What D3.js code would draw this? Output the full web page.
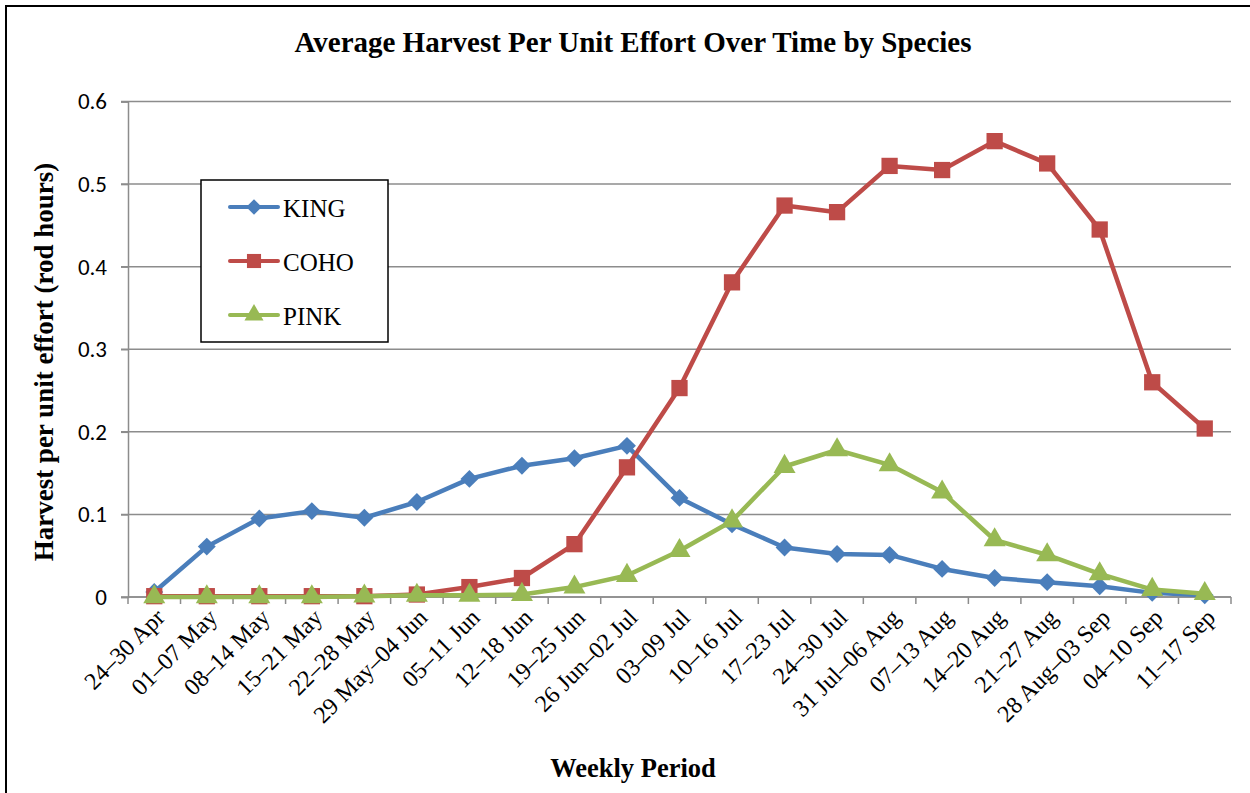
<!DOCTYPE html>
<html lang="en">
<head>
<meta charset="UTF-8">
<script src="https://cdn.jsdelivr.net/npm/d3@7"></script>
<title>Average Harvest Per Unit Effort Over Time by Species</title>
<style>
    body { margin: 0; background: white; }
    svg { display: block; }
    .ytick text { font-family: Calibri, Carlito, 'Liberation Sans', Arial, sans-serif; font-size: 23px; fill: #000; }
    .xtick text { font-family: 'Liberation Serif', 'Times New Roman', serif; font-size: 24px; fill: #000; }
</style>
</head>
<body>
<div id="chart"></div>
<script>
    const weeks = ["24–30 Apr", "01–07 May", "08–14 May", "15–21 May", "22–28 May", "29 May–04 Jun",
        "05–11 Jun", "12–18 Jun", "19–25 Jun", "26 Jun–02 Jul", "03–09 Jul", "10–16 Jul", "17–23 Jul",
        "24–30 Jul", "31 Jul–06 Aug", "07–13 Aug", "14–20 Aug", "21–27 Aug", "28 Aug–03 Sep",
        "04–10 Sep", "11–17 Sep"];

    const king = [0.006, 0.061, 0.095, 0.104, 0.096, 0.115, 0.143, 0.159, 0.168, 0.183, 0.120,
        0.088, 0.060, 0.052, 0.051, 0.034, 0.023, 0.018, 0.013, 0.005, 0.002];
    const coho = [0.001, 0.001, 0.001, 0.001, 0.001, 0.003, 0.012, 0.023, 0.064, 0.157, 0.253,
        0.381, 0.474, 0.466, 0.522, 0.517, 0.552, 0.525, 0.445, 0.260, 0.204];
    const pink = [0.000, 0.000, 0.000, 0.000, 0.001, 0.002, 0.002, 0.003, 0.012, 0.026, 0.056,
        0.092, 0.158, 0.178, 0.160, 0.127, 0.069, 0.051, 0.028, 0.009, 0.004];

    const yTicks = [0, 0.1, 0.2, 0.3, 0.4, 0.5, 0.6];

    const series = [
        { name: "KING", values: king, color: "#4A7EBB", marker: d3.symbolSquare, size: 160, rotate: 45 },
        { name: "COHO", values: coho, color: "#BE4B48", marker: d3.symbolSquare, size: 265, rotate: 0 },
        { name: "PINK", values: pink, color: "#98B954", marker: d3.symbolTriangle, size: 210, rotate: 0 }
    ];

    const width = 1250, height = 793;
    const margin = { left: 128, right: 19, top: 101.5, bottom: 196 };

    const svg = d3.select("#chart").append("svg")
        .attr("width", width)
        .attr("height", height);

    // outer frame (only top/left visible in the original crop)
    svg.append("rect")
        .attr("x", 6).attr("y", 6)
        .attr("width", 1260).attr("height", 800)
        .attr("fill", "white")
        .attr("stroke", "#000")
        .attr("stroke-width", 2);

    const x = d3.scaleBand()
        .domain(weeks)
        .range([margin.left, width - margin.right]);

    const y = d3.scaleLinear()
        .domain([0, 0.6])
        .range([height - margin.bottom, margin.top]);

    // gridlines
    svg.append("g")
        .selectAll("line")
        .data(yTicks)
        .enter()
        .append("line")
        .attr("x1", margin.left - 7)
        .attr("x2", width - margin.right)
        .attr("y1", d => y(d))
        .attr("y2", d => y(d))
        .attr("stroke", "#8c8c8c")
        .attr("stroke-width", 1.5);

    // y axis
    const yAxis = svg.append("g")
        .attr("class", "ytick")
        .attr("transform", `translate(${margin.left},0)`)
        .call(d3.axisLeft(y).tickValues(yTicks).tickFormat(d => d === 0 ? "0" : d3.format(".1f")(d)).tickSize(7).tickPadding(14));
    yAxis.select(".domain").attr("stroke", "#8c8c8c").attr("stroke-width", 1.5);
    yAxis.selectAll(".tick line").attr("stroke", "#8c8c8c").attr("stroke-width", 1.5);

    // x axis: ticks sit between categories
    const xAxisG = svg.append("g")
        .attr("transform", `translate(0,${y(0)})`);
    xAxisG.append("line")
        .attr("x1", margin.left).attr("x2", width - margin.right)
        .attr("stroke", "#8c8c8c").attr("stroke-width", 1.5);
    xAxisG.selectAll(".sep")
        .data(weeks.map(w => x(w)).concat([x(weeks[weeks.length - 1]) + x.bandwidth()]))
        .enter()
        .append("line")
        .attr("x1", d => d).attr("x2", d => d)
        .attr("y1", 0).attr("y2", 7)
        .attr("stroke", "#8c8c8c").attr("stroke-width", 1.5);

    xAxisG.append("g")
        .attr("class", "xtick")
        .selectAll("text")
        .data(weeks)
        .enter()
        .append("text")
        .attr("transform", d => `translate(${x(d) + x.bandwidth() / 2 + 6},${16}) rotate(-45)`)
        .attr("text-anchor", "end")
        .attr("dy", "0.35em")
        .text(d => d);

    // lines and markers
    const line = d3.line()
        .x((d, i) => x(weeks[i]) + x.bandwidth() / 2)
        .y(d => y(d));

    series.forEach(s => {
        svg.append("path")
            .datum(s.values)
            .attr("fill", "none")
            .attr("stroke", s.color)
            .attr("stroke-width", 4.5)
            .attr("stroke-linejoin", "round")
            .attr("d", line);

        svg.append("g")
            .selectAll("path")
            .data(s.values)
            .enter()
            .append("path")
            .attr("transform", (d, i) => `translate(${x(weeks[i]) + x.bandwidth() / 2},${y(d)}) rotate(${s.rotate})`)
            .attr("d", d3.symbol().type(s.marker).size(s.size))
            .attr("fill", s.color);
    });

    // legend
    const legend = svg.append("g");
    legend.append("rect")
        .attr("x", 201).attr("y", 180)
        .attr("width", 187).attr("height", 162)
        .attr("fill", "white")
        .attr("stroke", "#000")
        .attr("stroke-width", 1.5);

    series.forEach((s, i) => {
        const ly = 207 + i * 54;
        legend.append("line")
            .attr("x1", 230).attr("x2", 278)
            .attr("y1", ly).attr("y2", ly)
            .attr("stroke", s.color)
            .attr("stroke-width", 4)
            .attr("stroke-linecap", "round");
        legend.append("path")
            .attr("transform", `translate(254,${ly}) rotate(${s.rotate})`)
            .attr("d", d3.symbol().type(s.marker).size(s.size * 0.75))
            .attr("fill", s.color);
        legend.append("text")
            .attr("x", 283).attr("y", ly + 1)
            .attr("dy", "0.35em")
            .style("font-family", "'Liberation Serif', 'Times New Roman', serif")
            .style("font-size", "25px")
            .text(s.name);
    });

    // titles
    svg.append("text")
        .attr("x", 633).attr("y", 52)
        .attr("text-anchor", "middle")
        .style("font-family", "'Liberation Serif', 'Times New Roman', serif")
        .style("font-size", "29px")
        .style("font-weight", "bold")
        .text("Average Harvest Per Unit Effort Over Time by Species");

    svg.append("text")
        .attr("x", 633).attr("y", 777)
        .attr("text-anchor", "middle")
        .style("font-family", "'Liberation Serif', 'Times New Roman', serif")
        .style("font-size", "26.5px")
        .style("font-weight", "bold")
        .text("Weekly Period");

    svg.append("text")
        .attr("transform", `translate(53,362) rotate(-90)`)
        .attr("text-anchor", "middle")
        .style("font-family", "'Liberation Serif', 'Times New Roman', serif")
        .style("font-size", "27px")
        .style("font-weight", "bold")
        .text("Harvest per unit effort (rod hours)");
</script>
</body>
</html>
